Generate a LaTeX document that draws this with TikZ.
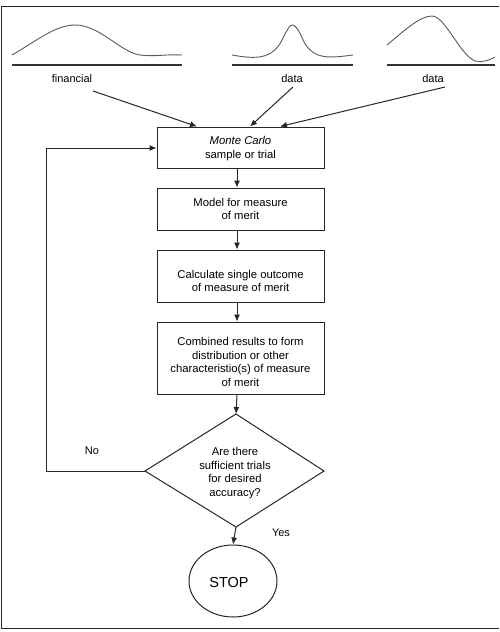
\documentclass[tikz,border=0pt]{standalone}
\usepackage{fontspec}
\setmainfont{Liberation Sans}
\usetikzlibrary{arrows.meta,shapes.geometric}
\begin{document}
\begin{tikzpicture}[x=1pt,y=-1pt,
  line/.style={draw=black!85, line width=1pt},
  arr/.style={line, -{Latex[length=7pt,width=6pt]}},
  curve/.style={draw=black!65, line width=0.9pt},
  base/.style={draw=black!80, line width=1.6pt},
  lbl/.style={font=\fontsize{11}{12}\selectfont, inner sep=0pt},
  boxtxt/.style={font=\fontsize{11.3}{13.6}\selectfont, align=center, inner sep=0pt}]
\useasboundingbox (0,0) rectangle (499,632);
% frame
\draw[draw=black!85, line width=1.6pt] (499,6.5) -- (1.5,6.5) -- (1.5,628.5) -- (499,628.5);
% distribution curves
\draw[curve] (12,55) .. controls (35,42) and (55,25) .. (75,25) .. controls (100,25) and (120,52) .. (140,55) .. controls (155,57) and (165,54) .. (182,55);
\draw[base] (12,65) -- (182,65);
\draw[curve] (232,55) .. controls (255,59) and (272,60) .. (282,40) .. controls (288,28) and (290,25) .. (292,25) .. controls (295,25) and (298,28) .. (304,42) .. controls (314,60) and (330,58) .. (353,55);
\draw[base] (232,65) -- (353,65);
\draw[curve] (387,45) .. controls (405,30) and (420,16) .. (432,16) .. controls (445,16) and (460,55) .. (475,61) .. controls (482,63) and (490,60) .. (495,57);
\draw[base] (387,65) -- (495,65);
\node[lbl] (l1) at (72,79) {financial};
\node[lbl] (l2) at (292,79) {data};
\node[lbl] (l3) at (433,79) {data};
% boxes
\node[line, minimum width=167pt, minimum height=41pt, inner sep=0pt] (b1) at (240.5,147.5) {};
\node[boxtxt] at ([yshift=-1pt]b1.center) {\textit{Monte Carlo}\\sample or trial};
\node[line, minimum width=167pt, minimum height=42pt, inner sep=0pt] (b2) at (240.5,209) {};
\node[boxtxt] at (b2) {Model for measure\\of merit};
\node[line, minimum width=167pt, minimum height=52pt, inner sep=0pt] (b3) at (240.5,276) {};
\node[boxtxt] at ([yshift=-5pt]b3.center) {Calculate single outcome\\of measure of merit};
\node[line, minimum width=167pt, minimum height=72pt, inner sep=0pt] (b4) at (240.5,358) {};
\node[boxtxt] at ([yshift=-4pt]b4.center) {Combined results to form\\distribution or other\\characteristio(s) of measure\\of merit};
% diamond
\coordinate (dt) at (236,414);
\coordinate (db) at (236,527);
\coordinate (dl) at (145,471);
\coordinate (dr) at (324,471);
\draw[line] (dt) -- (dr) -- (db) -- (dl) -- cycle;
\node[boxtxt] (dtxt) at (235,473) {Are there\\sufficient trials\\for desired\\accuracy?};
% stop
\node[line, ellipse, minimum width=88pt, minimum height=72pt, inner sep=0pt] (stop) at (233,581) {};
\node[font=\fontsize{14.5}{16}\selectfont, inner sep=0pt] at (229,583) {STOP};
% arrows
\coordinate (a1s) at (93,91);
\coordinate (a2s) at (293,87);
\coordinate (a3s) at (445,87);
\draw[arr] (a1s) -- (b1.north west -| 197,0);
\draw[arr] (a2s) -- (b1.north west -| 250,0);
\draw[arr] (a3s) -- (b1.north west -| 280,0);
\draw[arr] (b1.south west -| 237,0) -- (b2.north west -| 237,0);
\draw[arr] (b2.south west -| 237,0) -- (b3.north west -| 237,0);
\draw[arr] (b3.south west -| 237,0) -- (b4.north west -| 237,0);
\draw[arr] (b4.south west -| 237,0) -- (dt);
\draw[arr] (db) -- (stop.north);
\draw[arr] (dl) -- (46,471) -- (46,148) -- (b1.west |- 0,148);
\node[lbl] (no) at (92,451) {No};
\node[lbl] (yes) at (281,533) {Yes};
\end{tikzpicture}
\end{document}
